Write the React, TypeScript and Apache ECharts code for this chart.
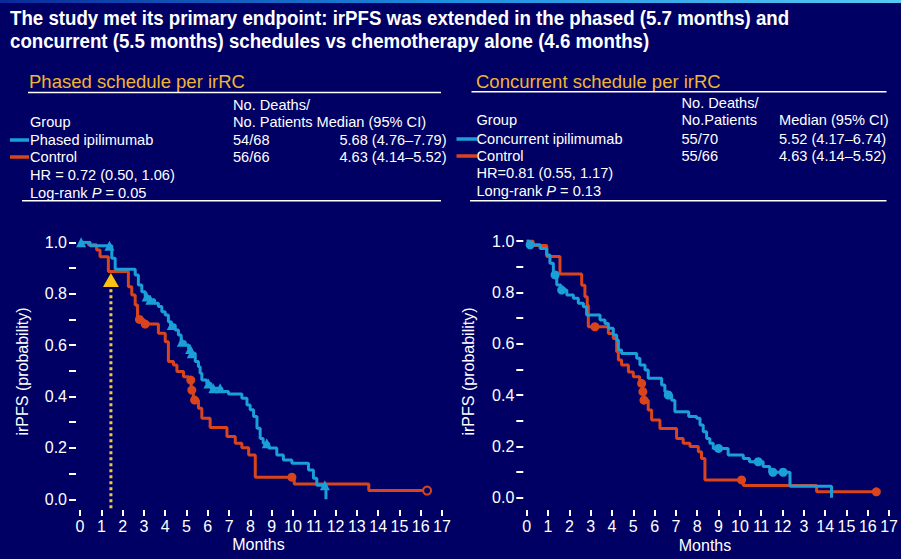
import React, { useEffect, useRef } from "react";
import * as echarts from "echarts";

// ---------- Data ----------
const TITLE_LINES = [
  "The study met its primary endpoint: irPFS was extended in the phased (5.7 months) and",
  "concurrent (5.5 months) schedules vs chemotherapy alone (4.6 months)",
];

const MONTH_TICKS = [0, 1, 2, 3, 4, 5, 6, 7, 8, 9, 10, 11, 12, 13, 14, 15, 16, 17];
const LEFT_MONTH_LABELS = ["0", "1", "2", "3", "4", "5", "6", "7", "8", "9", "10", "11", "12", "13", "14", "15", "16", "17"];
const RIGHT_MONTH_LABELS = ["0", "1", "2", "3", "4", "5", "6", "7", "8", "9", "10", "11", "12", "3", "14", "15", "16", "17"];
const PROB_LABELS = [0, 0.2, 0.4, 0.6, 0.8, 1.0];
const PROB_TICKS = [0, 0.1, 0.2, 0.3, 0.4, 0.5, 0.6, 0.7, 0.8, 0.9, 1.0];

// Left panel: phased ipilimumab (blue) step curve
const phasedTimes = [0, 0.47, 1.49, 1.65, 2.59, 2.74, 2.9, 3.06, 3.25, 3.5, 3.68, 3.84, 4.0, 4.15, 4.25, 4.47, 4.62, 4.75, 4.94, 5.1, 5.22, 5.41, 5.56, 5.64, 5.72, 5.95, 6.15, 6.66, 6.97, 7.6, 7.84, 7.99, 8.15, 8.31, 8.46, 8.6, 8.86, 9.24, 9.55, 9.95, 10.73, 10.96, 11.12, 11.55];
const phasedSurv = [1.0, 0.987, 0.938, 0.895, 0.873, 0.834, 0.808, 0.789, 0.776, 0.763, 0.75, 0.73, 0.717, 0.691, 0.678, 0.659, 0.639, 0.613, 0.6, 0.585, 0.568, 0.536, 0.516, 0.49, 0.464, 0.451, 0.432, 0.419, 0.41, 0.393, 0.367, 0.348, 0.322, 0.276, 0.237, 0.218, 0.2, 0.172, 0.153, 0.14, 0.114, 0.082, 0.055, 0.0];
const phasedCensorTimes = [0.05, 1.38, 3.13, 3.3, 4.31, 4.78, 5.17, 5.25, 6.03, 6.26, 6.58, 8.77, 11.5];
const phasedCensorSurv = [1.0, 0.987, 0.789, 0.776, 0.678, 0.613, 0.585, 0.568, 0.451, 0.432, 0.432, 0.218, 0.055];

// Left panel: control (red)
const controlLTimes = [0, 0.39, 0.78, 0.94, 1.33, 2.27, 2.43, 2.59, 2.7, 3.0, 3.68, 4.0, 4.15, 4.39, 4.55, 4.86, 5.1, 5.22, 5.32, 5.56, 5.72, 6.11, 6.9, 7.29, 7.6, 7.92, 8.23, 10.06, 13.56, 16.3];
const controlLSurv = [1.0, 0.99, 0.97, 0.944, 0.886, 0.827, 0.795, 0.756, 0.7, 0.682, 0.646, 0.613, 0.536, 0.523, 0.497, 0.477, 0.464, 0.425, 0.386, 0.354, 0.315, 0.279, 0.244, 0.218, 0.201, 0.172, 0.086, 0.06, 0.034, 0.034];
const controlLCensorTimes = [2.79, 3.06, 5.2, 5.25, 5.38, 9.95];
const controlLCensorSurv = [0.7, 0.682, 0.464, 0.425, 0.386, 0.086];
const controlLOpenTimes = [16.3];
const controlLOpenSurv = [0.034];

// Landmark marker (left panel)
const landmarkMonth = [1.45];
const landmarkTop = [0.853];

// Right panel: concurrent ipilimumab (blue)
const concTimes = [0, 0.1, 0.63, 0.94, 1.09, 1.25, 1.41, 1.6, 1.88, 2.19, 2.42, 2.66, 2.81, 3.44, 3.67, 3.83, 4.06, 4.22, 4.3, 4.45, 5.16, 5.31, 5.55, 5.7, 6.33, 6.48, 6.6, 6.8, 6.95, 7.6, 7.97, 8.13, 8.28, 8.44, 8.59, 8.75, 9.45, 10.16, 10.45, 11.09, 11.4, 12.35, 14.3];
const concSurv = [1.0, 0.985, 0.971, 0.945, 0.913, 0.868, 0.829, 0.809, 0.79, 0.777, 0.757, 0.744, 0.712, 0.692, 0.679, 0.66, 0.634, 0.614, 0.575, 0.562, 0.543, 0.517, 0.497, 0.465, 0.439, 0.413, 0.4, 0.38, 0.335, 0.316, 0.309, 0.283, 0.257, 0.231, 0.212, 0.192, 0.166, 0.153, 0.14, 0.121, 0.099, 0.045, 0.0];
const concCensorTimes = [0.16, 1.33, 1.64, 6.64, 9.0, 10.86, 11.55, 12.03];
const concCensorSurv = [0.985, 0.868, 0.809, 0.4, 0.192, 0.14, 0.099, 0.099];

// Right panel: control (red)
const controlRTimes = [0, 0.3, 0.94, 1.56, 2.58, 2.73, 2.84, 2.89, 3.83, 4.06, 4.22, 4.3, 4.45, 4.77, 5.0, 5.3, 5.45, 5.5, 5.7, 5.86, 6.25, 7.03, 7.34, 7.66, 8.05, 8.2, 8.36, 10.16, 13.6, 16.4];
const controlRSurv = [1.0, 0.982, 0.94, 0.871, 0.828, 0.783, 0.75, 0.666, 0.64, 0.62, 0.569, 0.536, 0.517, 0.49, 0.471, 0.445, 0.413, 0.38, 0.342, 0.303, 0.27, 0.231, 0.212, 0.199, 0.179, 0.153, 0.069, 0.047, 0.023, 0.023];
const controlRCensorTimes = [3.2, 5.39, 5.45, 5.5, 10.08, 16.4];
const controlRCensorSurv = [0.666, 0.445, 0.413, 0.38, 0.069, 0.023];

// Tables
const leftHeading = "Phased schedule per irRC";
const leftHeader = ["No. Deaths/", "Group", "No. Patients Median (95% CI)"];
const leftGroups = ["Phased ipilimumab", "Control"];
const leftCounts = ["54/68", "56/66"];
const leftMedians = ["5.68 (4.76–7.79)", "4.63 (4.14–5.52)"];
const leftStats = ["HR = 0.72 (0.50, 1.06)", "Log-rank {i|P} = 0.05"];

const rightHeading = "Concurrent schedule per irRC";
const rightHeader = ["No. Deaths/", "Group", "No.Patients", "Median (95% CI)"];
const rightGroups = ["Concurrent ipilimumab", "Control"];
const rightCounts = ["55/70", "55/66"];
const rightMedians = ["5.52 (4.17–6.74)", "4.63 (4.14–5.52)"];
const rightStats = ["HR=0.81 (0.55, 1.17)", "Long-rank {i|P} = 0.13"];

// ---------- Styles ----------
const BG = "#000064";
const BLUE = "#1a9fd9";
const RED = "#d9441c";
const GOLD = "#f2b431";
const YELLOW = "#f2c935";
const TRI_YELLOW = "#fcc20f";
const WHITE = "#ffffff";
const FONT = "'Liberation Sans', Arial, sans-serif";
const TFS = 14.6; // table font size

const zip = (a: number[], b: number[]) => a.map((v, i) => [v, b[i]]);

function axisPair(gridIndex: number, xMin: number, yMin: number, labels: string[], yLineColor: string, yLineWidth: number) {
  const xAxis = {
    type: "value",
    gridIndex,
    min: xMin,
    max: 17,
    axisLine: {
      show: true,
      onZero: false,
      lineStyle: { color: WHITE, width: 2, shadowColor: "#000000", shadowOffsetY: 2, shadowBlur: 0 },
    },
    axisTick: { show: true, customValues: MONTH_TICKS, length: 6, lineStyle: { color: WHITE, width: 2 } },
    axisLabel: {
      show: true,
      customValues: MONTH_TICKS,
      color: WHITE,
      fontSize: 16,
      fontFamily: FONT,
      margin: 8,
      formatter: (v: number) => labels[Math.round(v)] ?? "",
    },
    splitLine: { show: false },
  };
  const yAxis = {
    type: "value",
    gridIndex,
    min: yMin,
    max: 1.0,
    axisLine: {
      show: true,
      onZero: false,
      lineStyle: { color: yLineColor, width: yLineWidth, shadowColor: "#000000", shadowOffsetX: -2, shadowBlur: 0 },
    },
    axisTick: { show: true, customValues: PROB_TICKS, length: 7, lineStyle: { color: WHITE, width: 2 } },
    axisLabel: {
      show: true,
      customValues: PROB_LABELS,
      color: WHITE,
      fontSize: 16,
      fontFamily: FONT,
      margin: 9,
      formatter: (v: number) => v.toFixed(1),
    },
    splitLine: { show: false },
  };
  return { xAxis, yAxis };
}

function stepSeries(idx: number, times: number[], surv: number[], color: string, z: number) {
  return {
    type: "line",
    xAxisIndex: idx,
    yAxisIndex: idx,
    step: "end",
    data: zip(times, surv),
    symbol: "none",
    lineStyle: { color, width: 3 },
    z,
    silent: true,
  };
}

function markerSeries(idx: number, times: number[], surv: number[], color: string, symbol: string, size: any, z: number, hollow = false) {
  return {
    type: "scatter",
    xAxisIndex: idx,
    yAxisIndex: idx,
    data: zip(times, surv),
    symbol,
    symbolSize: size,
    itemStyle: hollow ? { color: BG, borderColor: color, borderWidth: 2, opacity: 1 } : { color, opacity: 1 },
    z,
    silent: true,
  };
}

function textEl(x: number, y: number, text: string, opts: any = {}) {
  return {
    type: "text",
    x,
    y,
    scaleX: opts.scaleX ?? 1,
    silent: true,
    style: {
      text,
      fill: opts.fill ?? WHITE,
      font: opts.font ?? `${TFS}px ${FONT}`,
      align: opts.align ?? "left",
      verticalAlign: "middle",
      rich: { i: { fontStyle: "italic", fontSize: TFS, fontFamily: FONT, fill: WHITE } },
    },
  };
}

function lineEl(x1: number, y1: number, x2: number, y2: number, color: string, width: number) {
  return { type: "line", silent: true, shape: { x1, y1, x2, y2 }, style: { stroke: color, lineWidth: width } };
}

function buildGraphics() {
  const g: any[] = [];
  // top gradient band
  g.push({
    type: "rect",
    silent: true,
    shape: { x: 0, y: 0, width: 901, height: 3 },
    style: {
      fill: new echarts.graphic.LinearGradient(0, 0, 1, 0, [
        { offset: 0, color: "#0a2a9a" },
        { offset: 0.5, color: "#1e8ee0" },
        { offset: 1, color: "#58c8f5" },
      ]),
    },
  });
  g.push(textEl(10, 18, TITLE_LINES[0], { font: `bold 21px ${FONT}`, scaleX: 0.89 }));
  g.push(textEl(10, 41, TITLE_LINES[1], { font: `bold 21px ${FONT}`, scaleX: 0.89 }));

  // Left table
  g.push(textEl(29, 81, leftHeading, { fill: GOLD, font: `18.5px ${FONT}` }));
  g.push(lineEl(28, 92.5, 441, 92.5, WHITE, 1.5));
  g.push(textEl(233, 105, leftHeader[0]));
  g.push(textEl(30, 122, leftHeader[1]));
  g.push(textEl(233, 122, leftHeader[2]));
  const lRows = [140, 157];
  leftGroups.forEach((s, i) => {
    g.push(textEl(30, lRows[i], s));
    g.push(textEl(233, lRows[i], leftCounts[i]));
    g.push(textEl(446.5, lRows[i], leftMedians[i], { align: "right" }));
  });
  g.push(lineEl(10, 140, 29, 140, BLUE, 3.5));
  g.push(lineEl(10, 157, 29, 157, RED, 3.5));
  g.push(textEl(30, 175, leftStats[0]));
  g.push(textEl(30, 193, leftStats[1]));
  g.push(lineEl(22, 200.7, 441, 200.7, WHITE, 1.5));

  // Right table
  g.push(textEl(476, 81.5, rightHeading, { fill: GOLD, font: `18.5px ${FONT}` }));
  g.push(lineEl(471.5, 91.7, 886.5, 91.7, WHITE, 1.5));
  g.push(textEl(681.5, 102.5, rightHeader[0]));
  g.push(textEl(476.5, 120, rightHeader[1]));
  g.push(textEl(681.5, 120, rightHeader[2]));
  g.push(textEl(779, 120, rightHeader[3]));
  const rRows = [139, 156];
  rightGroups.forEach((s, i) => {
    g.push(textEl(476.5, rRows[i], s));
    g.push(textEl(681.5, rRows[i], rightCounts[i]));
    g.push(textEl(779, rRows[i], rightMedians[i]));
  });
  g.push(lineEl(456.5, 139, 477, 139, BLUE, 3.5));
  g.push(lineEl(456.5, 156, 477, 156, RED, 3.5));
  g.push(textEl(476.5, 173.3, rightStats[0]));
  g.push(textEl(476.5, 190.7, rightStats[1]));
  g.push(lineEl(470, 200.7, 886.5, 200.7, WHITE, 1.5));

  // Axis titles
  g.push({
    type: "text",
    silent: true,
    x: 22,
    y: 371.5,
    rotation: Math.PI / 2,
    style: { text: "irPFS (probability)", fill: WHITE, font: `16px ${FONT}`, align: "center", verticalAlign: "middle" },
  });
  g.push({
    type: "text",
    silent: true,
    x: 468,
    y: 371.5,
    rotation: Math.PI / 2,
    style: { text: "irPFS (probability)", fill: WHITE, font: `16px ${FONT}`, align: "center", verticalAlign: "middle" },
  });
  g.push(textEl(258.5, 544.5, "Months", { font: `16px ${FONT}`, align: "center" }));
  g.push(textEl(705, 545, "Months", { font: `16px ${FONT}`, align: "center" }));
  return g;
}

export default function App() {
  const ref = useRef<HTMLDivElement>(null);
  useEffect(() => {
    if (!ref.current) return;
    const chart = echarts.init(ref.current, undefined, { renderer: "svg" });
    const left = axisPair(0, -0.19, -0.0416, LEFT_MONTH_LABELS, WHITE, 2);
    const right = axisPair(1, -0.16, -0.048, RIGHT_MONTH_LABELS, "#000000", 4);
    const option: any = {
      animation: false,
      backgroundColor: BG,
      grid: [
        { left: 76, top: 242.3, width: 366, height: 267.7, containLabel: false },
        { left: 523.3, top: 241, width: 366, height: 269, containLabel: false },
      ],
      xAxis: [left.xAxis, right.xAxis],
      yAxis: [left.yAxis, right.yAxis],
      graphic: buildGraphics(),
      series: [
        // left panel
        {
          type: "line",
          xAxisIndex: 0,
          yAxisIndex: 0,
          data: [
            [landmarkMonth[0], -0.035],
            [landmarkMonth[0], landmarkTop[0] - 0.03],
          ],
          symbol: "none",
          lineStyle: { color: YELLOW, width: 3, type: [3, 3] },
          z: 1,
          silent: true,
        },
        stepSeries(0, controlLTimes, controlLSurv, RED, 2),
        stepSeries(0, phasedTimes, phasedSurv, BLUE, 3),
        markerSeries(0, controlLCensorTimes, controlLCensorSurv, RED, "circle", 9, 4),
        markerSeries(0, controlLOpenTimes, controlLOpenSurv, RED, "circle", 8, 4, true),
        markerSeries(0, phasedCensorTimes, phasedCensorSurv, BLUE, "triangle", 10, 5),
        markerSeries(0, landmarkMonth, landmarkTop, TRI_YELLOW, "triangle", [16, 14], 6),
        // right panel
        stepSeries(1, controlRTimes, controlRSurv, RED, 2),
        stepSeries(1, concTimes, concSurv, BLUE, 3),
        markerSeries(1, controlRCensorTimes, controlRCensorSurv, RED, "circle", 9, 4),
        markerSeries(1, concCensorTimes, concCensorSurv, BLUE, "circle", 9, 5),
      ],
    };
    chart.setOption(option);
    return () => chart.dispose();
  }, []);
  return <div ref={ref} style={{ position: "fixed", left: 0, top: 0, width: 901, height: 559 }} />;
}
